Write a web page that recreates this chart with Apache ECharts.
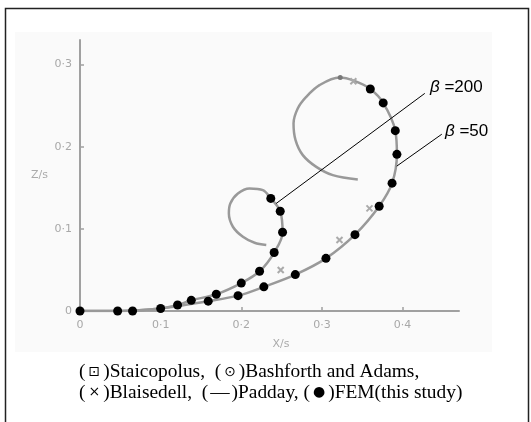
<!DOCTYPE html>
<html>
<head>
<meta charset="utf-8">
<script src="https://cdn.jsdelivr.net/npm/echarts@6/dist/echarts.min.js"></script>
<style>
html,body{margin:0;padding:0;background:#fff;}
#chart{width:531px;height:422px;}
</style>
</head>
<body>
<div id="chart"></div>
<script>
// ---- data (X/s, Z/s) ----
const xTickLabels = ['0', '0·1', '0·2', '0·3', '0·4'];
const yTickLabels = ['0', '0·1', '0·2', '0·3'];

// Padday curves (solid gray)
const padday50 = [
  [0,0],[0.05,0],[0.1,0.003],[0.159,0.012],[0.196,0.0187],[0.228,0.0294],[0.267,0.0443],
  [0.305,0.0641],[0.341,0.093],[0.371,0.1276],[0.387,0.1557],[0.393,0.1908],[0.391,0.2196],
  [0.376,0.2534],[0.360,0.2703],[0.3404,0.2802],[0.3218,0.2843],[0.297,0.275],[0.2805,0.2607],
  [0.270,0.2466],[0.2648,0.2283],[0.2673,0.208],[0.2763,0.1898],[0.293,0.1755],[0.3135,0.1655],
  [0.3445,0.1602]
];
const padday200 = [
  [0,0],[0.05,0],[0.1,0.003],[0.121,0.0073],[0.138,0.013],[0.169,0.0204],[0.200,0.034],
  [0.2227,0.0484],[0.2408,0.0712],[0.2512,0.0959],[0.2483,0.1214],[0.2366,0.1371],
  [0.2268,0.1472],[0.2103,0.1493],[0.1958,0.1432],[0.1864,0.131],[0.1846,0.1189],
  [0.1896,0.1026],[0.202,0.0904],[0.2165,0.0831],[0.231,0.0803]
];
// FEM (this study) dots
const fem50 = [
  [0,0],[0.0467,0],[0.0652,0],[0.100,0.003],[0.159,0.012],[0.196,0.0187],[0.228,0.0294],
  [0.267,0.0443],[0.305,0.0641],[0.341,0.093],[0.371,0.1276],[0.387,0.1557],[0.393,0.1908],
  [0.391,0.2196],[0.376,0.2534],[0.360,0.2703]
];
const fem200 = [
  [0.121,0.0073],[0.138,0.013],[0.169,0.0204],[0.200,0.034],[0.2227,0.0484],[0.2408,0.0712],
  [0.2512,0.0959],[0.2483,0.1214],[0.2366,0.1371]
];
// Blaisedell crosses (faint)
const blaisedell = [[0.2489,0.0499],[0.3218,0.0864],[0.359,0.125],[0.339,0.2798]];
// Bashforth and Adams (faint)
const bashforth = [[0.3227,0.2843]];

// annotation leader lines
const lead200 = [[0.2432,0.1309],[0.4276,0.2650]];
const lead50 = [[0.3928,0.1764],[0.4487,0.2153]];

function fmt(labels){
  return function(v){
    const i = Math.round(v / 0.1);
    return Math.abs(v - i * 0.1) < 1e-6 && labels[i] !== undefined ? labels[i] : '';
  };
}

const chart = echarts.init(document.getElementById('chart'), null, {renderer:'canvas'});
const crossPath = 'path://M0,0L10,10M10,0L0,10';
chart.setOption({
  animation: false,
  backgroundColor: '#fff',
  grid: {left: 80, top: 40, width: 379, height: 271},
  xAxis: {
    type: 'value', min: 0, max: 0.47, interval: 0.1,
    name: 'X/s', nameLocation: 'middle', nameGap: 28,
    nameTextStyle: {color: '#aaa', fontSize: 11, fontFamily: 'DejaVu Sans', padding: [0,0,0,23]},
    axisLine: {lineStyle: {color: '#a0a0a0', width: 2}},
    axisTick: {inside: true, length: 4, lineStyle: {color: '#a0a0a0', width: 1.5}},
    axisLabel: {formatter: fmt(xTickLabels), color: '#a8a8a8', fontSize: 11, fontFamily: 'DejaVu Sans', margin: 9, showMaxLabel: false},
    splitLine: {show: false}
  },
  yAxis: {
    type: 'value', min: 0, max: 0.33, interval: 0.1,
    name: 'Z/s', nameLocation: 'middle', nameGap: 32, nameRotate: 0,
    nameTextStyle: {color: '#aaa', fontSize: 11, fontFamily: 'DejaVu Sans', padding: [8,0,0,0]},
    axisLine: {lineStyle: {color: '#a0a0a0', width: 2}},
    axisTick: {inside: true, length: 4, lineStyle: {color: '#a0a0a0', width: 1.5}},
    axisLabel: {formatter: fmt(yTickLabels), color: '#a8a8a8', fontSize: 11, fontFamily: 'DejaVu Sans', margin: 8, showMaxLabel: false},
    splitLine: {show: false}
  },
  graphic: [
    {type: 'rect', z: -10, silent: true, shape: {x: 15, y: 32, width: 477, height: 320}, style: {fill: '#fafafa'}},
    {type: 'polyline', z: 100, shape: {points: [[5.5,422],[5.5,8.5],[528.5,8.5],[528.5,422]]}, style: {stroke: '#222', lineWidth: 1.5, fill: null}},
    {type: 'text', z: 100, left: 430, top: 79, style: {
      text: '{i|β} =200', font: '17px "Liberation Sans"', fill: '#000',
      rich: {i: {font: 'italic 17px "Liberation Sans"', fill: '#000'}}
    }},
    {type: 'text', z: 100, left: 445, top: 123, style: {
      text: '{i|β} =50', font: '17px "Liberation Sans"', fill: '#000',
      rich: {i: {font: 'italic 17px "Liberation Sans"', fill: '#000'}}
    }},
    {type: 'text', z: 100, left: 79, top: 362, style: {
      text: '({s|⊡})Staicopolus,  ({s|⊙})Bashforth and Adams,\n({s|×})Blaisedell,  ({d|—})Padday, ({s|●})FEM(this study)',
      font: '19.4px "Liberation Serif"', fill: '#000', lineHeight: 20.5,
      rich: {
        s: {font: '14px "DejaVu Sans"', fill: '#000', padding: [0,3,0,3]},
        d: {font: '19.4px "Liberation Serif"', fill: '#000', padding: [0,2,0,2]}
      }
    }}
  ],
  series: [
    {type: 'line', name: 'Padday β=50', data: padday50, smooth: 0.35, showSymbol: false, lineStyle: {color: '#999', width: 2.5}, z: 2},
    {type: 'line', name: 'Padday β=200', data: padday200, smooth: 0.35, showSymbol: false, lineStyle: {color: '#999', width: 2.5}, z: 2},
    {type: 'scatter', name: 'Blaisedell', data: blaisedell, symbol: crossPath, symbolSize: 6, itemStyle: {color: 'none', borderColor: '#aaa', borderWidth: 2, opacity: 1}, z: 3},
    {type: 'scatter', name: 'Bashforth', data: bashforth, symbolSize: 5, itemStyle: {color: '#777', opacity: 1}, z: 3},
    {type: 'line', name: 'lead200', data: lead200, showSymbol: false, lineStyle: {color: '#000', width: 1}, z: 4},
    {type: 'line', name: 'lead50', data: lead50, showSymbol: false, lineStyle: {color: '#000', width: 1}, z: 4},
    {type: 'scatter', name: 'FEM β=50', data: fem50, symbolSize: 9, itemStyle: {color: '#000', opacity: 1}, z: 5},
    {type: 'scatter', name: 'FEM β=200', data: fem200, symbolSize: 9, itemStyle: {color: '#000', opacity: 1}, z: 5}
  ]
});
</script>
</body>
</html>
